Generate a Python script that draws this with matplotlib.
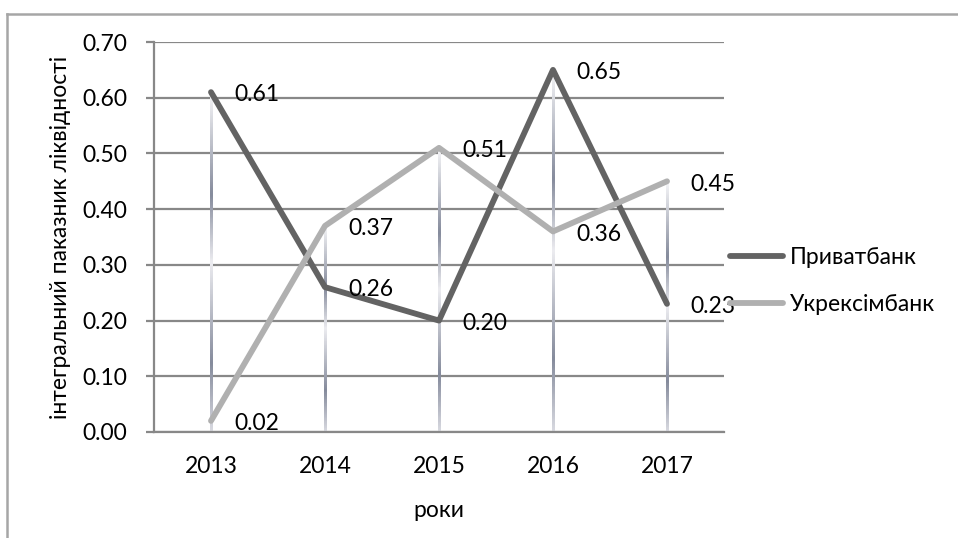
import numpy as np
import matplotlib
matplotlib.use("Agg")
import matplotlib.pyplot as plt
from matplotlib.colors import LinearSegmentedColormap
from matplotlib.lines import Line2D

plt.rcParams.update({"font.family": ["Lato", "DejaVu Sans"], "font.size": 16.5})

years = ["2013", "2014", "2015", "2016", "2017"]
privat = [0.61, 0.26, 0.20, 0.65, 0.23]
ukrex = [0.02, 0.37, 0.51, 0.36, 0.45]
yticks = [0.0, 0.1, 0.2, 0.3, 0.4, 0.5, 0.6, 0.7]

fig = plt.figure(figsize=(9.58, 5.38), dpi=100)
ax = fig.add_axes([154 / 958, 1 - 432 / 538, 570 / 958, 390 / 538])

x = np.arange(len(years))
grid_c = "#888888"

# drop lines with gradient (like Excel)
cmap = LinearSegmentedColormap.from_list(
    "drop", [(0.0, "#f6f6f8"), (0.3, "#858b9c"), (0.5, "#ececf0"),
             (0.8, "#858b9c"), (1.0, "#d8d9e0")])
grad = np.linspace(0, 1, 200).reshape(-1, 1)
w = 1.3 / 114
for xi, top in zip(x, np.maximum(privat, ukrex)):
    ax.imshow(grad, cmap=cmap, aspect="auto", origin="upper",
              extent=(xi - w, xi + w, 0, top), zorder=2, interpolation="bilinear")

ax.plot(x, privat, color="#636363", lw=4.2, zorder=3, label="Приватбанк",
        solid_capstyle="round")
ax.plot(x, ukrex, color="#b0b0b0", lw=4.2, zorder=4, label="Укрексімбанк",
        solid_capstyle="round")

for xi, v in zip(x, privat):
    ax.annotate(f"{v:.2f}", (xi, v), xytext=(16.5, -2), textcoords="offset points",
                ha="left", va="center", zorder=5)
for xi, v in zip(x, ukrex):
    ax.annotate(f"{v:.2f}", (xi, v), xytext=(16.5, -2), textcoords="offset points",
                ha="left", va="center", zorder=5)

ax.set_xlim(-0.5, 4.5)
ax.set_ylim(0, 0.7)
ax.set_yticks(yticks)
ax.set_yticklabels([f"{t:.2f}" for t in yticks])
ax.set_xticks(x)
ax.set_xticklabels(years)
ax.grid(axis="y", color=grid_c, lw=1.6, zorder=1)
ax.set_axisbelow(True)
for s in ["top", "right"]:
    ax.spines[s].set_visible(False)
for s in ["left", "bottom"]:
    ax.spines[s].set_color(grid_c)
    ax.spines[s].set_linewidth(1.6)
ax.tick_params(axis="y", length=6, width=1.6, color=grid_c, pad=13)
ax.tick_params(axis="x", length=0, pad=17)

ax.set_xlabel("роки", labelpad=17)
ax.set_ylabel("інтегральний паказник ліквідності", labelpad=8)

ax.legend(loc="center left", bbox_to_anchor=(730 / 958, 1 - 281 / 538),
          bbox_transform=fig.transFigure, frameon=False, handlelength=2.3,
          handletextpad=0.3, labelspacing=1.15, borderaxespad=0, borderpad=0)

# outer chart border (top and left visible)
bc = "#a6a6a6"
fig.add_artist(Line2D([7 / 958, 1.0], [1 - 14 / 538] * 2, color=bc, lw=1.8,
                      transform=fig.transFigure))
fig.add_artist(Line2D([7 / 958] * 2, [0.0, 1 - 14 / 538], color=bc, lw=1.8,
                      transform=fig.transFigure))

fig.savefig("out.png", dpi=100)
